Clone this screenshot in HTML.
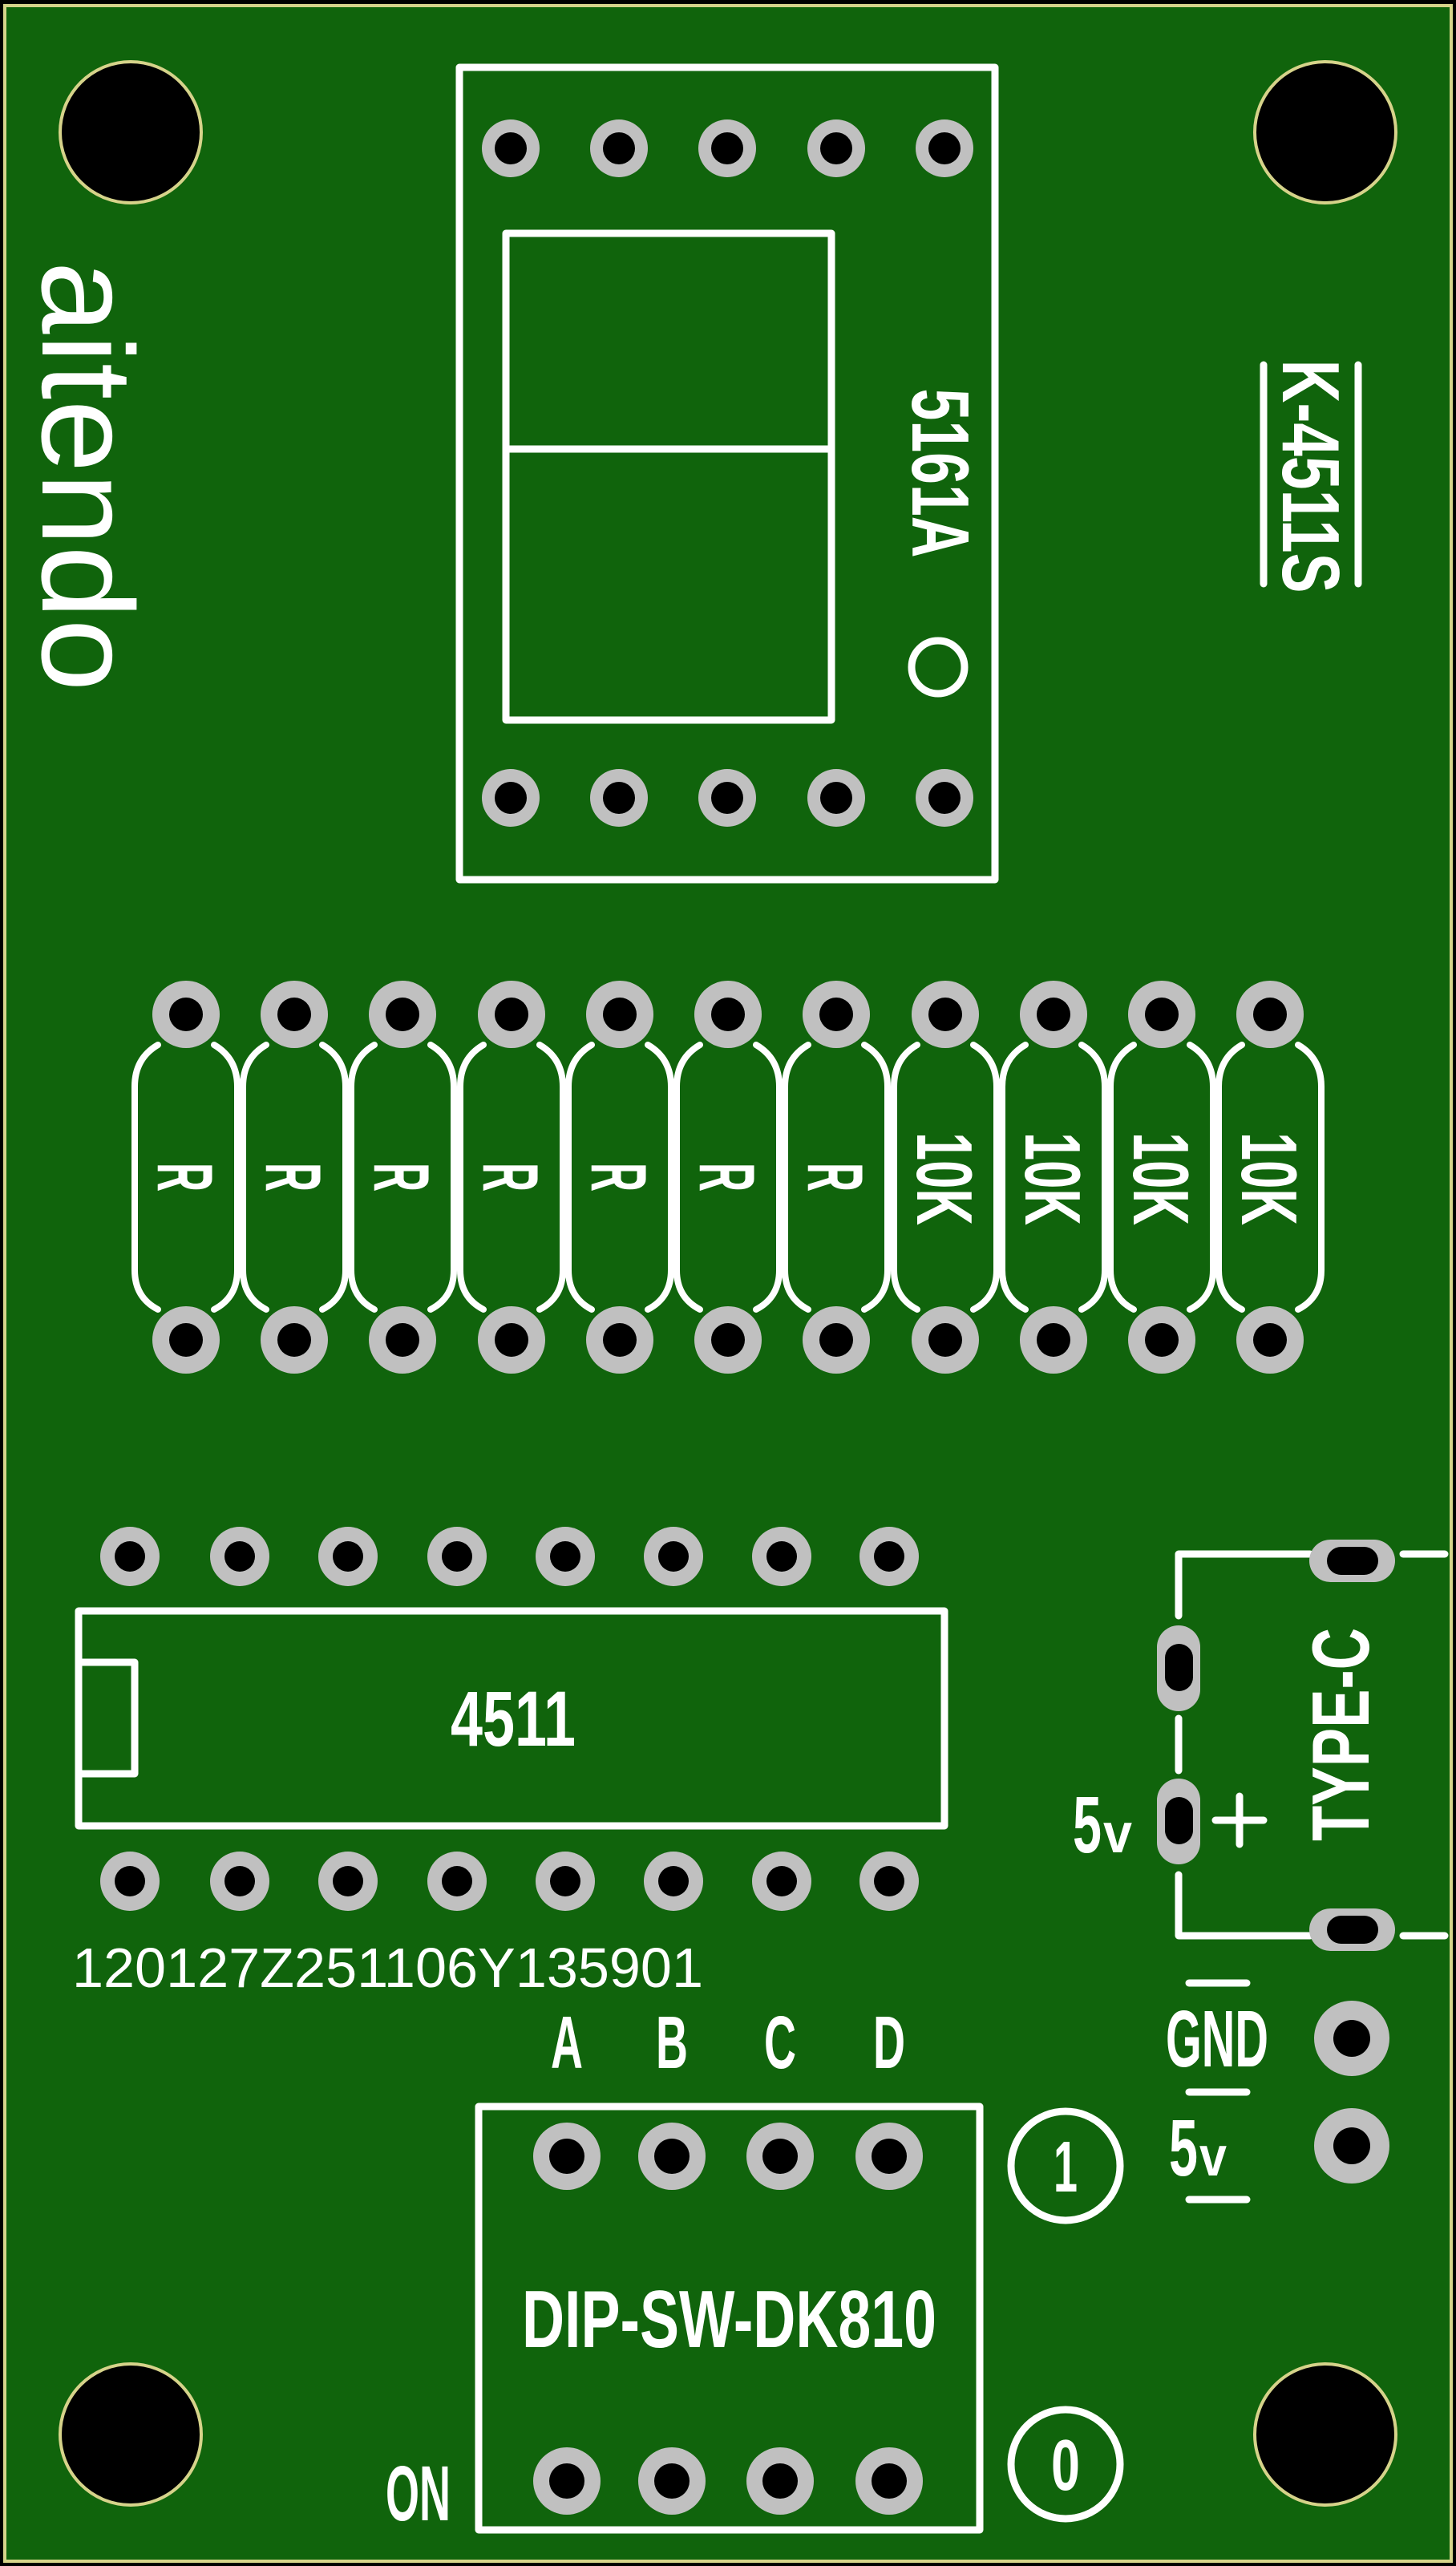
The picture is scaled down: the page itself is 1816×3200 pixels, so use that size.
<!DOCTYPE html>
<html><head><meta charset="utf-8"><style>
html,body{margin:0;padding:0;background:#000;}
svg{display:block}
text{font-family:"Liberation Sans",sans-serif;fill:#fff}
</style></head><body>
<svg width="1816" height="3200" viewBox="0 0 1816 3200" xmlns="http://www.w3.org/2000/svg">
<rect x="0" y="0" width="1816" height="3200" fill="#000"/>
<rect x="6" y="7" width="1804" height="3187" fill="#10640c" stroke="#d6d38a" stroke-width="4"/>
<!-- mounting holes -->
<g fill="#000" stroke="#d6d38a" stroke-width="4">
<circle cx="163" cy="165" r="88"/><circle cx="1653" cy="165" r="88"/>
<circle cx="163" cy="3036" r="88"/><circle cx="1653" cy="3036" r="88"/>
</g>
<g fill="none" stroke="#fff" stroke-width="9" stroke-linejoin="round" stroke-linecap="round">
<!-- 7 seg -->
<rect x="573" y="84" width="668" height="1013"/>
<rect x="631" y="291" width="406" height="607"/>
<line x1="631" y1="560" x2="1037" y2="560"/>
<circle cx="1170" cy="832" r="33"/>
<line x1="1576" y1="455" x2="1576" y2="728"/>
<line x1="1694" y1="455" x2="1694" y2="728"/>
<!-- IC -->
<rect x="98" y="2009" width="1080" height="268"/>
<polyline points="98,2073 168,2073 168,2212 98,2212"/>
<!-- DIP -->
<rect x="597" y="2627" width="625" height="528"/>
<circle cx="1329" cy="2701" r="68"/>
<circle cx="1329" cy="3073" r="68"/>
<!-- type-c -->
<polyline points="1634,1938 1470,1938 1470,2015"/>
<line x1="1470" y1="2143" x2="1470" y2="2208"/>
<polyline points="1470,2338 1470,2414 1634,2414"/>
<line x1="1750" y1="1938" x2="1802" y2="1938"/>
<line x1="1750" y1="2414" x2="1802" y2="2414"/>
<line x1="1516" y1="2270" x2="1576" y2="2270"/>
<line x1="1546" y1="2240" x2="1546" y2="2300"/>
<line x1="1483" y1="2473" x2="1555" y2="2473"/>
<line x1="1483" y1="2609" x2="1555" y2="2609"/>
<line x1="1483" y1="2743" x2="1555" y2="2743"/>
</g>
<!-- resistor outlines -->
<g fill="none" stroke="#fff" stroke-width="8" stroke-linecap="round">
<path d="M197 1303 Q168 1320 168 1355 L168 1584 Q168 1618 197 1633 M267 1303 Q296 1320 296 1355 L296 1584 Q296 1618 267 1633"/>
<path d="M332 1303 Q303 1320 303 1355 L303 1584 Q303 1618 332 1633 M402 1303 Q431 1320 431 1355 L431 1584 Q431 1618 402 1633"/>
<path d="M467 1303 Q438 1320 438 1355 L438 1584 Q438 1618 467 1633 M537 1303 Q566 1320 566 1355 L566 1584 Q566 1618 537 1633"/>
<path d="M603 1303 Q574 1320 574 1355 L574 1584 Q574 1618 603 1633 M673 1303 Q702 1320 702 1355 L702 1584 Q702 1618 673 1633"/>
<path d="M738 1303 Q709 1320 709 1355 L709 1584 Q709 1618 738 1633 M808 1303 Q837 1320 837 1355 L837 1584 Q837 1618 808 1633"/>
<path d="M873 1303 Q844 1320 844 1355 L844 1584 Q844 1618 873 1633 M943 1303 Q972 1320 972 1355 L972 1584 Q972 1618 943 1633"/>
<path d="M1008 1303 Q979 1320 979 1355 L979 1584 Q979 1618 1008 1633 M1078 1303 Q1107 1320 1107 1355 L1107 1584 Q1107 1618 1078 1633"/>
<path d="M1144 1303 Q1115 1320 1115 1355 L1115 1584 Q1115 1618 1144 1633 M1214 1303 Q1243 1320 1243 1355 L1243 1584 Q1243 1618 1214 1633"/>
<path d="M1279 1303 Q1250 1320 1250 1355 L1250 1584 Q1250 1618 1279 1633 M1349 1303 Q1378 1320 1378 1355 L1378 1584 Q1378 1618 1349 1633"/>
<path d="M1414 1303 Q1385 1320 1385 1355 L1385 1584 Q1385 1618 1414 1633 M1484 1303 Q1513 1320 1513 1355 L1513 1584 Q1513 1618 1484 1633"/>
<path d="M1549 1303 Q1520 1320 1520 1355 L1520 1584 Q1520 1618 1549 1633 M1619 1303 Q1648 1320 1648 1355 L1648 1584 Q1648 1618 1619 1633"/>
</g>
<!-- pads -->
<g fill="#c0c0c0">
<!-- 7seg -->
<circle cx="637" cy="185" r="36"/><circle cx="772" cy="185" r="36"/><circle cx="907" cy="185" r="36"/><circle cx="1043" cy="185" r="36"/><circle cx="1178" cy="185" r="36"/>
<circle cx="637" cy="995" r="36"/><circle cx="772" cy="995" r="36"/><circle cx="907" cy="995" r="36"/><circle cx="1043" cy="995" r="36"/><circle cx="1178" cy="995" r="36"/>
<!-- resistors -->
<circle cx="232" cy="1265" r="42"/><circle cx="367" cy="1265" r="42"/><circle cx="502" cy="1265" r="42"/><circle cx="638" cy="1265" r="42"/><circle cx="773" cy="1265" r="42"/><circle cx="908" cy="1265" r="42"/><circle cx="1043" cy="1265" r="42"/><circle cx="1179" cy="1265" r="42"/><circle cx="1314" cy="1265" r="42"/><circle cx="1449" cy="1265" r="42"/><circle cx="1584" cy="1265" r="42"/>
<circle cx="232" cy="1671" r="42"/><circle cx="367" cy="1671" r="42"/><circle cx="502" cy="1671" r="42"/><circle cx="638" cy="1671" r="42"/><circle cx="773" cy="1671" r="42"/><circle cx="908" cy="1671" r="42"/><circle cx="1043" cy="1671" r="42"/><circle cx="1179" cy="1671" r="42"/><circle cx="1314" cy="1671" r="42"/><circle cx="1449" cy="1671" r="42"/><circle cx="1584" cy="1671" r="42"/>
<!-- IC -->
<circle cx="162" cy="1941" r="37"/><circle cx="299" cy="1941" r="37"/><circle cx="434" cy="1941" r="37"/><circle cx="570" cy="1941" r="37"/><circle cx="705" cy="1941" r="37"/><circle cx="840" cy="1941" r="37"/><circle cx="975" cy="1941" r="37"/><circle cx="1109" cy="1941" r="37"/>
<circle cx="162" cy="2346" r="37"/><circle cx="299" cy="2346" r="37"/><circle cx="434" cy="2346" r="37"/><circle cx="570" cy="2346" r="37"/><circle cx="705" cy="2346" r="37"/><circle cx="840" cy="2346" r="37"/><circle cx="975" cy="2346" r="37"/><circle cx="1109" cy="2346" r="37"/>
<!-- DIP -->
<circle cx="707" cy="2689" r="42"/><circle cx="838" cy="2689" r="42"/><circle cx="973" cy="2689" r="42"/><circle cx="1109" cy="2689" r="42"/>
<circle cx="707" cy="3094" r="42"/><circle cx="838" cy="3094" r="42"/><circle cx="973" cy="3094" r="42"/><circle cx="1109" cy="3094" r="42"/>
<!-- GND/5v -->
<circle cx="1686" cy="2542" r="47"/><circle cx="1686" cy="2676" r="47"/>
<!-- type-c -->
<rect x="1633" y="1920" width="107" height="53" rx="26.5"/>
<rect x="1633" y="2380" width="107" height="53" rx="26.5"/>
<rect x="1443" y="2027" width="54" height="107" rx="27"/>
<rect x="1443" y="2218" width="54" height="107" rx="27"/>
</g>
<g fill="#000">
<circle cx="637" cy="185" r="20"/><circle cx="772" cy="185" r="20"/><circle cx="907" cy="185" r="20"/><circle cx="1043" cy="185" r="20"/><circle cx="1178" cy="185" r="20"/>
<circle cx="637" cy="995" r="20"/><circle cx="772" cy="995" r="20"/><circle cx="907" cy="995" r="20"/><circle cx="1043" cy="995" r="20"/><circle cx="1178" cy="995" r="20"/>
<circle cx="232" cy="1265" r="21"/><circle cx="367" cy="1265" r="21"/><circle cx="502" cy="1265" r="21"/><circle cx="638" cy="1265" r="21"/><circle cx="773" cy="1265" r="21"/><circle cx="908" cy="1265" r="21"/><circle cx="1043" cy="1265" r="21"/><circle cx="1179" cy="1265" r="21"/><circle cx="1314" cy="1265" r="21"/><circle cx="1449" cy="1265" r="21"/><circle cx="1584" cy="1265" r="21"/>
<circle cx="232" cy="1671" r="21"/><circle cx="367" cy="1671" r="21"/><circle cx="502" cy="1671" r="21"/><circle cx="638" cy="1671" r="21"/><circle cx="773" cy="1671" r="21"/><circle cx="908" cy="1671" r="21"/><circle cx="1043" cy="1671" r="21"/><circle cx="1179" cy="1671" r="21"/><circle cx="1314" cy="1671" r="21"/><circle cx="1449" cy="1671" r="21"/><circle cx="1584" cy="1671" r="21"/>
<circle cx="162" cy="1941" r="19"/><circle cx="299" cy="1941" r="19"/><circle cx="434" cy="1941" r="19"/><circle cx="570" cy="1941" r="19"/><circle cx="705" cy="1941" r="19"/><circle cx="840" cy="1941" r="19"/><circle cx="975" cy="1941" r="19"/><circle cx="1109" cy="1941" r="19"/>
<circle cx="162" cy="2346" r="19"/><circle cx="299" cy="2346" r="19"/><circle cx="434" cy="2346" r="19"/><circle cx="570" cy="2346" r="19"/><circle cx="705" cy="2346" r="19"/><circle cx="840" cy="2346" r="19"/><circle cx="975" cy="2346" r="19"/><circle cx="1109" cy="2346" r="19"/>
<circle cx="707" cy="2689" r="22"/><circle cx="838" cy="2689" r="22"/><circle cx="973" cy="2689" r="22"/><circle cx="1109" cy="2689" r="22"/>
<circle cx="707" cy="3094" r="22"/><circle cx="838" cy="3094" r="22"/><circle cx="973" cy="3094" r="22"/><circle cx="1109" cy="3094" r="22"/>
<circle cx="1686" cy="2542" r="23"/><circle cx="1686" cy="2676" r="23"/>
<rect x="1655" y="1929" width="64" height="35" rx="17.5"/>
<rect x="1655" y="2389" width="64" height="35" rx="17.5"/>
<rect x="1453" y="2050" width="35" height="59" rx="17.5"/>
<rect x="1453" y="2241" width="35" height="59" rx="17.5"/>
</g>
<!-- rotated labels -->
<g font-weight="bold" font-size="101" text-anchor="middle">
<text transform="translate(1173,590) rotate(90)" y="35" textLength="211" lengthAdjust="spacingAndGlyphs">5161A</text>
<text transform="translate(1636,594) rotate(90)" y="36" textLength="291" lengthAdjust="spacingAndGlyphs">K-4511S</text>
<text transform="translate(1672,2163) rotate(-90)" y="35" textLength="266" lengthAdjust="spacingAndGlyphs">TYPE-C</text>
<g font-size="98">
<text transform="translate(232,1468) rotate(90)" y="35" textLength="36" lengthAdjust="spacingAndGlyphs">R</text>
<text transform="translate(367,1468) rotate(90)" y="35" textLength="36" lengthAdjust="spacingAndGlyphs">R</text>
<text transform="translate(502,1468) rotate(90)" y="35" textLength="36" lengthAdjust="spacingAndGlyphs">R</text>
<text transform="translate(638,1468) rotate(90)" y="35" textLength="36" lengthAdjust="spacingAndGlyphs">R</text>
<text transform="translate(773,1468) rotate(90)" y="35" textLength="36" lengthAdjust="spacingAndGlyphs">R</text>
<text transform="translate(908,1468) rotate(90)" y="35" textLength="36" lengthAdjust="spacingAndGlyphs">R</text>
<text transform="translate(1043,1468) rotate(90)" y="35" textLength="36" lengthAdjust="spacingAndGlyphs">R</text>
<text transform="translate(1179,1470) rotate(90)" y="35" textLength="116" lengthAdjust="spacingAndGlyphs">10K</text>
<text transform="translate(1314,1470) rotate(90)" y="35" textLength="116" lengthAdjust="spacingAndGlyphs">10K</text>
<text transform="translate(1449,1470) rotate(90)" y="35" textLength="116" lengthAdjust="spacingAndGlyphs">10K</text>
<text transform="translate(1584,1470) rotate(90)" y="35" textLength="116" lengthAdjust="spacingAndGlyphs">10K</text>
</g>
</g>
<text transform="translate(95,594) rotate(90)" y="42" font-size="162" text-anchor="middle" textLength="537" lengthAdjust="spacingAndGlyphs">aitendo</text>
<!-- horizontal labels -->
<g font-weight="bold">
<text x="562" y="2177" font-size="97" textLength="156" lengthAdjust="spacingAndGlyphs">4511</text>
<g font-size="93" text-anchor="middle">
<text x="707" y="2579" textLength="40" lengthAdjust="spacingAndGlyphs">A</text>
<text x="838" y="2579" textLength="40" lengthAdjust="spacingAndGlyphs">B</text>
<text x="973" y="2579" textLength="40" lengthAdjust="spacingAndGlyphs">C</text>
<text x="1109" y="2579" textLength="40" lengthAdjust="spacingAndGlyphs">D</text>
</g>
<text x="651" y="2927" font-size="101" textLength="517" lengthAdjust="spacingAndGlyphs">DIP-SW-DK810</text>
<text x="481" y="3143" font-size="97" textLength="81" lengthAdjust="spacingAndGlyphs">ON</text>
<text x="1329" y="2733" font-size="90" text-anchor="middle" textLength="30" lengthAdjust="spacingAndGlyphs">1</text>
<text x="1329" y="3105" font-size="90" text-anchor="middle" textLength="36" lengthAdjust="spacingAndGlyphs">0</text>
<text x="1454" y="2577" font-size="100" textLength="128" lengthAdjust="spacingAndGlyphs">GND</text>
<text x="1458" y="2713" font-size="100" textLength="36" lengthAdjust="spacingAndGlyphs">5</text>
<text x="1496" y="2713" font-size="70" textLength="34" lengthAdjust="spacingAndGlyphs">v</text>
<text x="1338" y="2310" font-size="100" textLength="36" lengthAdjust="spacingAndGlyphs">5</text>
<text x="1376" y="2310" font-size="70" textLength="36" lengthAdjust="spacingAndGlyphs">v</text>
</g>
<text x="90" y="2478" font-size="70" textLength="787" lengthAdjust="spacingAndGlyphs">120127Z251106Y135901</text>
</svg>
</body></html>
